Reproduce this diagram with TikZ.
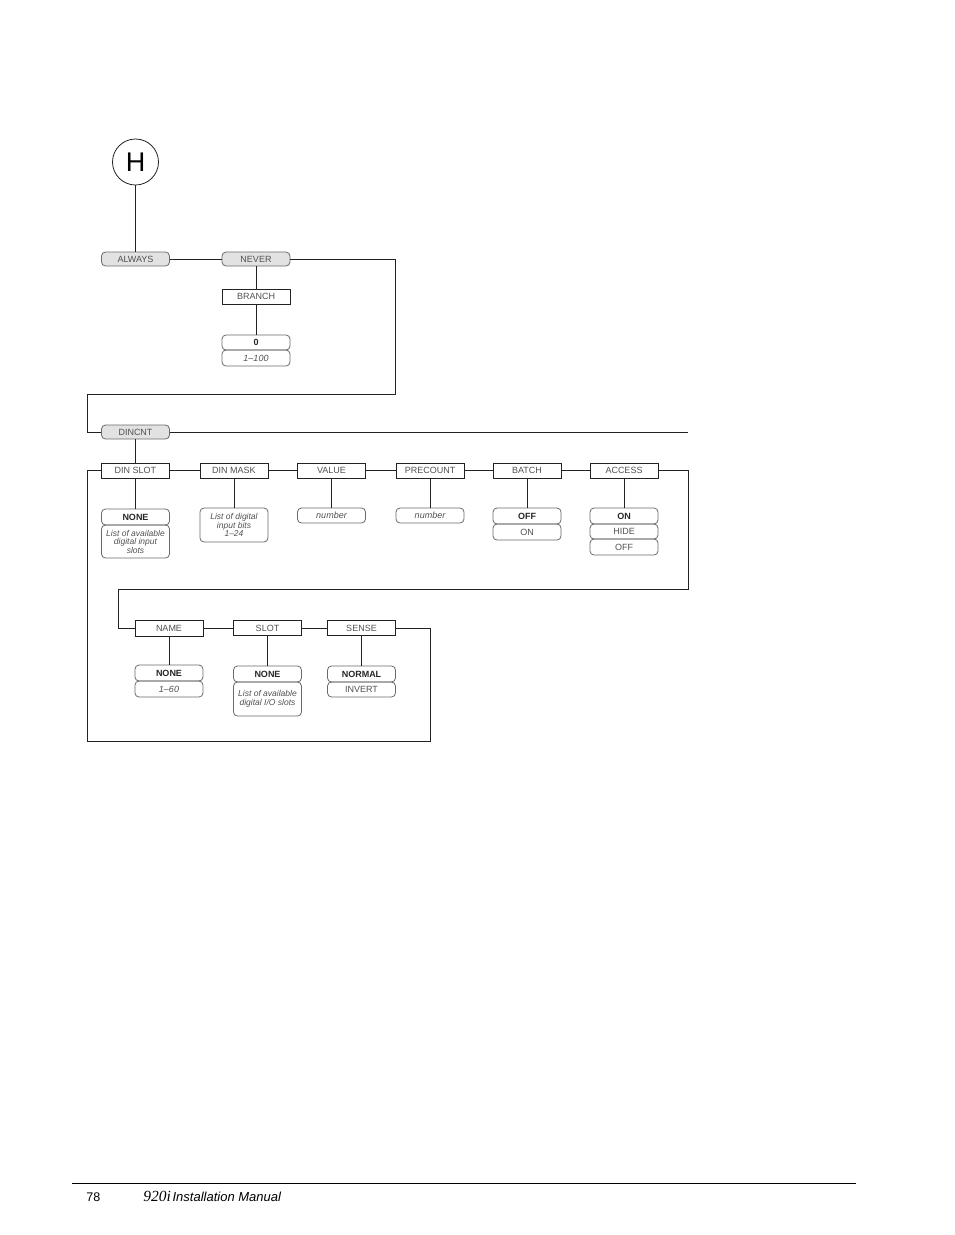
\documentclass[tikz,border=0pt]{standalone}
\usepackage{fontspec}
\setmainfont{Liberation Sans}
\newfontfamily\serifit{Liberation Serif}
\definecolor{txt}{HTML}{505050}
\definecolor{boxln}{HTML}{222222}
\definecolor{optln}{HTML}{6A6A6A}
\definecolor{gfill}{HTML}{E2E2E2}
\begin{document}
\begin{tikzpicture}[x=1pt,y=-1pt,
  line width=0.8pt,
  conn/.style={draw=boxln, line width=0.8pt},
  menubox/.style={rectangle, draw=boxln, line width=0.8pt, minimum width=68pt, minimum height=15pt, inner sep=0pt, text=txt, font=\fontsize{9}{10}\selectfont},
  gbox/.style={menubox, rounded corners=4pt, fill=gfill, draw=optln, minimum height=14pt},
  optbox/.style={rectangle, rounded corners=4pt, draw=optln, line width=0.8pt, minimum width=68pt, minimum height=16pt, inner sep=0pt, text=txt, font=\fontsize{9}{10}\selectfont},
  selbox/.style={optbox, text=black!85, font=\fontsize{9}{10}\selectfont\bfseries},
  itbox/.style={optbox, font=\fontsize{9}{10}\selectfont\itshape},
  listbox/.style={optbox, align=center, font=\fontsize{8.5}{8.5}\selectfont\itshape}
]
\useasboundingbox (0,0) rectangle (954,1235);

% H circle
\node[circle, draw=boxln, line width=0.8pt, minimum size=46pt, inner sep=0pt, font=\fontsize{27}{27}\selectfont] (H) at (135.5,162) {H};

\node[gbox] (always) at (135.5,259) {ALWAYS};
\node[gbox] (never) at (256,259) {NEVER};
\node[menubox] (branch) at (256,296.5) {BRANCH};
\node[selbox, minimum height=15pt] (zero) at (256,342.5) {0};
\node[itbox] (r100) at (256,358) {1--100};

\node[gbox] (dincnt) at (135.5,432) {DINCNT};

% row 1
\node[menubox] (dinslot) at (135.5,470.5) {DIN SLOT};
\node[menubox] (dinmask) at (234,470.5) {DIN MASK};
\node[menubox] (value) at (331.5,470.5) {VALUE};
\node[menubox] (precount) at (430,470.5) {PRECOUNT};
\node[menubox] (batch) at (527,470.5) {BATCH};
\node[menubox] (access) at (624,470.5) {ACCESS};

\node[selbox] (none1) at (135.5,517) {NONE};
\node[listbox, minimum height=33pt] (list1) at (135.5,541.5) {List of available\\digital input\\slots};
\node[listbox, minimum height=34pt] (masklist) at (234,525) {List of digital\\input bits\\1--24};
\node[itbox, minimum height=15pt] (num1) at (331.5,515.5) {number};
\node[itbox, minimum height=15pt] (num2) at (430,515.5) {number};
\node[selbox] (boff) at (527,516) {OFF};
\node[optbox] (bon) at (527,532) {ON};
\node[selbox] (aon) at (624,516) {ON};
\node[optbox, minimum height=15pt] (ahide) at (624,531.5) {HIDE};
\node[optbox] (aoff) at (624,547) {OFF};

% row 2
\node[menubox, minimum height=16pt] (name) at (169,628) {NAME};
\node[menubox] (slot) at (267.5,628) {SLOT};
\node[menubox] (sense) at (361.5,628) {SENSE};

\node[selbox] (none2) at (169,673) {NONE};
\node[itbox] (r60) at (169,689) {1--60};
\node[selbox] (none3) at (267.5,674) {NONE};
\node[listbox, minimum height=34pt] (list3) at (267.5,699) {List of available\\digital I/O slots};
\node[selbox] (normal) at (361.5,674) {NORMAL};
\node[optbox, minimum height=15pt] (invert) at (361.5,689.5) {INVERT};

% corner coordinates
\coordinate (c1) at (395,259);
\coordinate (c2) at (395,394);
\coordinate (c3) at (87,394);
\coordinate (dend) at (688,432);
\coordinate (c4) at (688,470.5);
\coordinate (c5) at (688,589);
\coordinate (c6) at (118,589);
\coordinate (c7) at (87,470.5);
\coordinate (c8) at (87,741);
\coordinate (c9) at (430,741);

% connectors
\draw[conn] (H.south) -- (always.north);
\draw[conn] (always.east) -- (never.west);
\draw[conn] (never.south) -- (branch.north);
\draw[conn] (branch.south) -- (zero.north);
\draw[conn] (never.east) -- (c1) -- (c2) -- (c3) |- (dincnt.west);
\draw[conn] (dincnt.east) -- (dend);
\draw[conn] (dincnt.south) -- (dinslot.north);
\draw[conn] (dinslot.east) -- (dinmask.west);
\draw[conn] (dinmask.east) -- (value.west);
\draw[conn] (value.east) -- (precount.west);
\draw[conn] (precount.east) -- (batch.west);
\draw[conn] (batch.east) -- (access.west);
\draw[conn] (access.east) -- (c4) -- (c5) -- (c6) |- (name.west);
\draw[conn] (dinslot.west) -- (c7) -- (c8) -- (c9) |- (sense.east);
\draw[conn] (name.east) -- (slot.west);
\draw[conn] (slot.east) -- (sense.west);

\draw[conn] (dinslot.south) -- (none1.north);
\draw[conn] (dinmask.south) -- (masklist.north);
\draw[conn] (value.south) -- (num1.north);
\draw[conn] (precount.south) -- (num2.north);
\draw[conn] (batch.south) -- (boff.north);
\draw[conn] (access.south) -- (aon.north);
\draw[conn] (name.south) -- (none2.north);
\draw[conn] (slot.south) -- (none3.north);
\draw[conn] (sense.south) -- (normal.north);

% footer
\coordinate (f1) at (72,1183);
\coordinate (f2) at (856,1183);
\draw[line width=0.9pt, black] (f1) -- (f2);
\node[anchor=base west, inner sep=0pt, font=\fontsize{12.5}{13}\selectfont] (pg) at (86,1201) {78};
\node[anchor=base west, inner sep=0pt] (title) at (143,1201) {{\serifit\itshape\fontsize{15.5}{16}\selectfont 920i}\,{\itshape\fontsize{13}{14}\selectfont Installation Manual}};
\end{tikzpicture}
\end{document}
